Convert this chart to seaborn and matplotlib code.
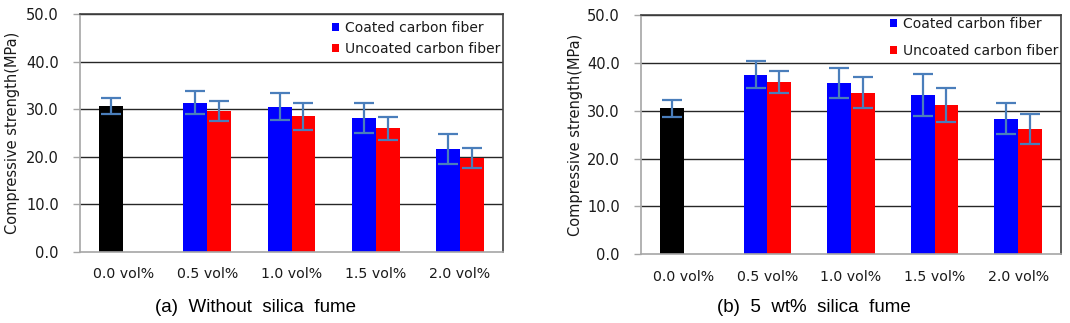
import numpy as np
import pandas as pd
import matplotlib
matplotlib.use("Agg")
import matplotlib.pyplot as plt
from matplotlib.patches import Patch
import seaborn as sns

# ---------------- data ----------------
categories = ["0.0 vol%", "0.5 vol%", "1.0 vol%", "1.5 vol%", "2.0 vol%"]
series_names = ["Coated carbon fiber", "Uncoated carbon fiber"]

# (a) Without silica fume
coated_a = [30.65, 31.35, 30.5, 28.1, 21.65]
coated_a_err = [1.7, 2.45, 2.8, 3.1, 3.1]
uncoated_a = [np.nan, 29.6, 28.55, 25.95, 19.7]
uncoated_a_err = [np.nan, 2.1, 2.85, 2.45, 2.1]

# (b) 5 wt% silica fume
coated_b = [30.5, 37.5, 35.8, 33.35, 28.35]
coated_b_err = [1.8, 2.8, 3.15, 4.4, 3.2]
uncoated_b = [np.nan, 36.0, 33.8, 31.2, 26.2]
uncoated_b_err = [np.nan, 2.4, 3.15, 3.5, 3.15]

captions = ["(a)  Without  silica  fume", "(b)  5  wt%  silica  fume"]
y_ticks = [0, 10, 20, 30, 40, 50]
y_label = "Compressive strength(MPa)"

colors = {"Coated carbon fiber": "#0000FF", "Uncoated carbon fiber": "#FF0000"}
control_color = "#000000"
err_color = "#4A7EBB"
text_color = "#1A1A1A"


def make_df(coated, coated_err, uncoated, uncoated_err):
    rows = []
    for cat, v, e in zip(categories, coated, coated_err):
        if not np.isnan(v):
            rows.append((cat, series_names[0], v, e))
    for cat, v, e in zip(categories, uncoated, uncoated_err):
        if not np.isnan(v):
            rows.append((cat, series_names[1], v, e))
    return pd.DataFrame(rows, columns=["content", "fiber", "strength", "err"])


sns.set_style("white")
plt.rcParams["font.family"] = ["DejaVu Sans"]

fig = plt.figure(figsize=(10.70, 3.23), dpi=100)
ax_a = fig.add_axes([80 / 1070, 1 - 252 / 323, 423 / 1070, 238 / 323])
ax_b = fig.add_axes([641 / 1070, 1 - 254.3 / 323, 420 / 1070, 239.3 / 323])

panels = [
    (ax_a, make_df(coated_a, coated_a_err, uncoated_a, uncoated_a_err), -0.141, 0.5, (1.0, 0.983)),
    (ax_b, make_df(coated_b, coated_b_err, uncoated_b, uncoated_b_err), -0.138, 0.95, (1.0, 1.004)),
]

for ax, df, ylab_x, lspace, lanchor in panels:
    sns.barplot(data=df, x="content", y="strength", hue="fiber",
                order=categories, hue_order=series_names,
                palette=colors, width=0.57, errorbar=None,
                legend=False, ax=ax, linewidth=0, saturation=1)

    # error bars at the bar centres drawn by seaborn
    for container, name in zip(ax.containers, series_names):
        sub = df[df["fiber"] == name].set_index("content")
        xs, ys, es = [], [], []
        for bar in container:
            xc = bar.get_x() + bar.get_width() / 2
            cat = categories[int(round(xc))]
            if name == series_names[0] and cat == categories[0]:
                bar.set_facecolor(control_color)
            xs.append(xc)
            ys.append(bar.get_height())
            es.append(sub.loc[cat, "err"])
        ax.errorbar(xs, ys, yerr=es, fmt="none", ecolor=err_color,
                    elinewidth=1.6, capsize=7.2, capthick=1.6, zorder=4)

    ax.set_ylim(0, 50)
    ax.set_yticks(y_ticks)
    ax.set_yticklabels([f"{t:.1f}" for t in y_ticks], fontsize=10.5, color=text_color)
    ax.set_xticks(range(len(categories)))
    ax.set_xticklabels(categories, fontsize=10.2, color=text_color)
    ax.set_xlabel("")
    ax.set_ylabel(y_label, fontsize=10.5, color=text_color)
    ax.yaxis.set_label_coords(ylab_x, 0.5)

    ax.tick_params(axis="y", length=5, width=1, color="#A6A6A6", pad=10.2, left=True)
    ax.tick_params(axis="x", length=0, pad=11)

    ax.grid(False)
    for t in y_ticks[1:]:
        ax.axhline(t, color="#262626", lw=1.0, zorder=0.5)
    for side in ["left", "bottom"]:
        ax.spines[side].set_color("#A6A6A6")
        ax.spines[side].set_linewidth(1.2)
    for side in ["top", "right"]:
        ax.spines[side].set_color("#404040")
        ax.spines[side].set_linewidth(1.2)
        ax.spines[side].set_visible(True)

    handles = [Patch(facecolor=colors[n], edgecolor="none", label=n) for n in series_names]
    leg = ax.legend(handles=handles, loc="upper right", bbox_to_anchor=lanchor,
                    frameon=False, fontsize=10, handlelength=0.5, handleheight=0.55,
                    handletextpad=0.45, borderaxespad=0.0, borderpad=0.2,
                    labelspacing=lspace)
    for txt in leg.get_texts():
        txt.set_color(text_color)

fig.text(255.5 / 1070, 1 - 308 / 323, captions[0], ha="center", va="center",
         fontsize=13.5, family=["Liberation Sans", "DejaVu Sans"], color="black")
fig.text(814 / 1070, 1 - 308 / 323, captions[1], ha="center", va="center",
         fontsize=13.5, family=["Liberation Sans", "DejaVu Sans"], color="black")

fig.savefig("out.png", dpi=100, facecolor="white")
